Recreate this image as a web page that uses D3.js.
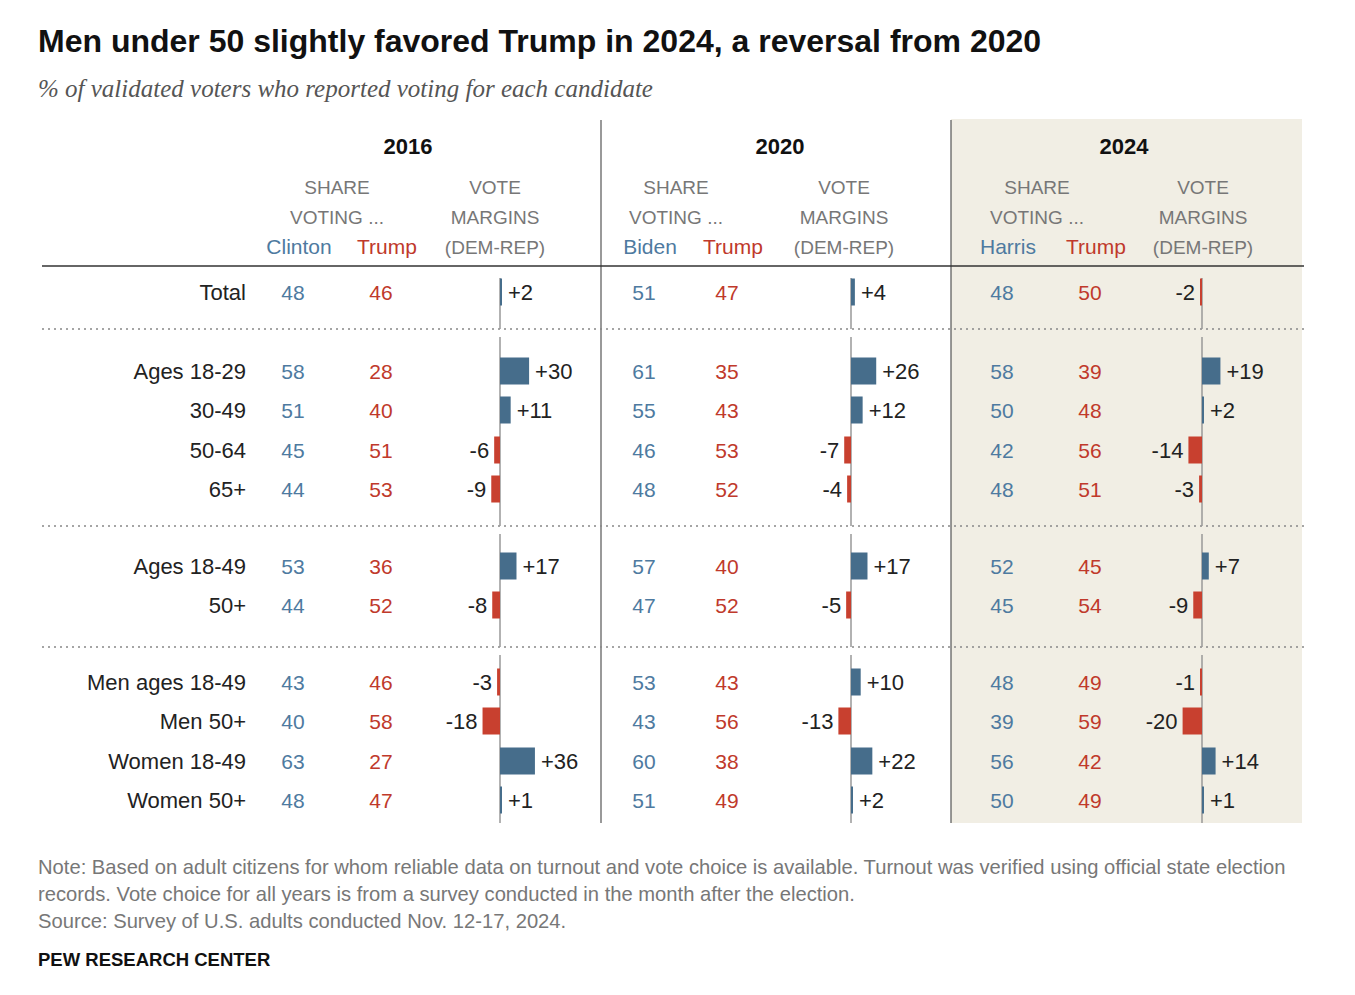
<!DOCTYPE html>
<html>
<head>
<meta charset="utf-8">
<script src="https://cdn.jsdelivr.net/npm/d3@7"></script>
<style>
  body { margin: 0; background: #fff; }
  text { font-family: "Liberation Sans", Arial, sans-serif; }
</style>
</head>
<body>
<svg id="chart" width="1355" height="995"></svg>
<script>
const rowLabels = ["Total", "Ages 18-29", "30-49", "50-64", "65+", "Ages 18-49", "50+",
  "Men ages 18-49", "Men 50+", "Women 18-49", "Women 50+"];
const years = ["2016", "2020", "2024"];
const demNames = ["Clinton", "Biden", "Harris"];
const dem2016 = [48, 58, 51, 45, 44, 53, 44, 43, 40, 63, 48];
const rep2016 = [46, 28, 40, 51, 53, 36, 52, 46, 58, 27, 47];
const margin2016 = [2, 30, 11, -6, -9, 17, -8, -3, -18, 36, 1];
const dem2020 = [51, 61, 55, 46, 48, 57, 47, 53, 43, 60, 51];
const rep2020 = [47, 35, 43, 53, 52, 40, 52, 43, 56, 38, 49];
const margin2020 = [4, 26, 12, -7, -4, 17, -5, 10, -13, 22, 2];
const dem2024 = [48, 58, 50, 42, 48, 52, 45, 48, 39, 56, 50];
const rep2024 = [50, 39, 48, 56, 51, 45, 54, 49, 59, 42, 49];
const margin2024 = [-2, 19, 2, -14, -3, 7, -9, -1, -20, 14, 1];

const dem = [dem2016, dem2020, dem2024];
const rep = [rep2016, rep2020, rep2024];
const margins = [margin2016, margin2020, margin2024];

const BLUE_T = "#4e7aa0", RED_T = "#c0392b", BLUE_B = "#466d8b", RED_B = "#c8402f";
const svg = d3.select("#chart");

// shaded 2024 panel
svg.append("rect").attr("x", 951).attr("y", 119).attr("width", 351).attr("height", 704).attr("fill", "#f1eee4");

svg.append("text").attr("x", 38).attr("y", 52).attr("font-size", 32).attr("font-weight", "bold")
  .attr("fill", "#111").text("Men under 50 slightly favored Trump in 2024, a reversal from 2020");
svg.append("text").attr("x", 38).attr("y", 97).attr("font-size", 25).attr("font-style", "italic")
  .attr("fill", "#555")
  .style("font-family", "'Liberation Serif', Georgia, serif")
  .text("% of validated voters who reported voting for each candidate");

const rowY = [292, 371, 410, 450, 489, 566, 605, 682, 721, 761, 800];
const y = d3.scaleOrdinal().domain(rowLabels).range(rowY);
const dividers = [329, 526, 647];
const groupTop = [278, 337, 534, 655];
const groupBot = [329, 526, 647, 823];

// per-panel column positions
const demX = [293, 644, 1002];
const repX = [381, 727, 1090];
const zeroX = [500, 851, 1202];
const yearX = [408, 780, 1124];
const shareX = [337, 676, 1037];
const voteX = [495, 844, 1203];
const x = d3.scaleLinear().domain([0, 1]).range([0, 0.97]);

// separators
svg.append("line").attr("x1", 601).attr("x2", 601).attr("y1", 120).attr("y2", 823).attr("stroke", "#555").attr("stroke-width", 1.2);
svg.append("line").attr("x1", 951).attr("x2", 951).attr("y1", 120).attr("y2", 823).attr("stroke", "#555").attr("stroke-width", 1.2);
svg.append("line").attr("x1", 42).attr("x2", 1304).attr("y1", 266).attr("y2", 266).attr("stroke", "#333").attr("stroke-width", 1.3);
dividers.forEach(d => svg.append("line").attr("x1", 42).attr("x2", 1306).attr("y1", d).attr("y2", d)
  .attr("stroke", "#888").attr("stroke-width", 1.5).attr("stroke-dasharray", "2,4"));

// row labels
svg.selectAll(".rl").data(rowLabels).enter().append("text")
  .attr("x", 246).attr("y", d => y(d) + 8).attr("text-anchor", "end")
  .attr("font-size", 22).attr("fill", "#222").text(d => d);

years.forEach((yr, p) => {
  const dx = demX[p], rx = repX[p], zx = zeroX[p];
  const g = svg.append("g");
  g.append("text").attr("x", yearX[p]).attr("y", 154).attr("text-anchor", "middle")
    .attr("font-size", 22).attr("font-weight", "bold").attr("fill", "#111").text(yr);
  [["SHARE", shareX[p], 194], ["VOTING ...", shareX[p], 224], ["VOTE", voteX[p], 194], ["MARGINS", voteX[p], 224], ["(DEM-REP)", voteX[p], 254]]
    .forEach(([t, tx, ty]) => g.append("text").attr("x", tx).attr("y", ty).attr("text-anchor", "middle")
      .attr("font-size", 19).attr("fill", "#777").text(t));
  g.append("text").attr("x", dx + 6).attr("y", 254).attr("text-anchor", "middle").attr("font-size", 21)
    .attr("fill", BLUE_T).text(demNames[p]);
  g.append("text").attr("x", rx + 6).attr("y", 254).attr("text-anchor", "middle").attr("font-size", 21)
    .attr("fill", RED_T).text("Trump");

  groupTop.forEach((t, i) => g.append("line").attr("x1", zx).attr("x2", zx).attr("y1", t).attr("y2", groupBot[i])
    .attr("stroke", "#999").attr("stroke-width", 1.5));

  rowLabels.forEach((lab, i) => {
    const cy = y(lab);
    g.append("text").attr("x", dx).attr("y", cy + 8).attr("text-anchor", "middle").attr("font-size", 21)
      .attr("fill", BLUE_T).text(dem[p][i]);
    g.append("text").attr("x", rx).attr("y", cy + 8).attr("text-anchor", "middle").attr("font-size", 21)
      .attr("fill", RED_T).text(rep[p][i]);
    const m = margins[p][i];
    const w = Math.max(x(Math.abs(m)), 2);
    g.append("rect").attr("x", m >= 0 ? zx : zx - w).attr("y", cy - 13.5).attr("width", w).attr("height", 27)
      .attr("fill", m >= 0 ? BLUE_B : RED_B);
    g.append("text").attr("x", m >= 0 ? zx + w + 6 : zx - w - 5).attr("y", cy + 8)
      .attr("text-anchor", m >= 0 ? "start" : "end").attr("font-size", 22).attr("fill", "#222")
      .text(m > 0 ? "+" + m : String(m));
  });
});

const notes = ["Note: Based on adult citizens for whom reliable data on turnout and vote choice is available. Turnout was verified using official state election",
  "records. Vote choice for all years is from a survey conducted in the month after the election.",
  "Source: Survey of U.S. adults conducted Nov. 12-17, 2024."];
notes.forEach((n, i) => svg.append("text").attr("x", 38).attr("y", 874 + i * 27).attr("font-size", 20.2)
  .attr("fill", "#777").text(n));
svg.append("text").attr("x", 38).attr("y", 966).attr("font-size", 18.5).attr("font-weight", "bold")
  .attr("fill", "#111").text("PEW RESEARCH CENTER");
</script>
</body>
</html>
